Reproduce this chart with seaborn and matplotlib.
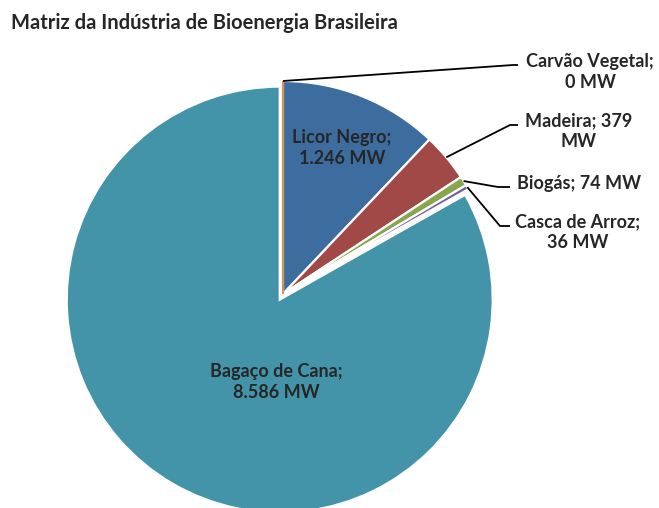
import matplotlib
matplotlib.use("Agg")

import matplotlib.pyplot as plt
import numpy as np
import seaborn as sns

# Brazilian bioenergy installed capacity (MW), clockwise from the top
SOURCES = ["Carvão Vegetal", "Licor Negro", "Madeira", "Biogás", "Casca de Arroz", "Bagaço de Cana"]
CAPACITY_MW = [0, 1246, 379, 74, 36, 8586]
LABELS = ["Carvão Vegetal;\n0 MW", "Licor Negro;\n1.246 MW", "Madeira; 379\nMW",
          "Biogás; 74 MW", "Casca de Arroz;\n36 MW", "Bagaço de Cana;\n8.586 MW"]
COLORS = ["#E1823B", "#3D6C9E", "#A14946", "#88A64E", "#735FA0", "#4394A8"]

W, H = 659, 508
sns.set_theme(style="white")
plt.rcParams["font.family"] = ["Lato", "DejaVu Sans"]
text_color = "#262626"

fig = plt.figure(figsize=(W / 100, H / 100), dpi=100)
ax = fig.add_axes([0, 0, 1, 1])

# axes are in pixel units, so explode is an offset in pixels here
cx, cy, r = 283, H - 294, 213
explode = [0, 0, 0, 0, 0, 6.5]
wedges, _ = ax.pie(
    CAPACITY_MW, colors=COLORS, startangle=90, counterclock=False,
    center=(cx, cy), radius=r, explode=explode,
    wedgeprops={"edgecolor": "white", "linewidth": 1.6},
    frame=True,
)
# the zero-width slice only shows as a thin orange line
wedges[0].set_edgecolor(COLORS[0])
wedges[0].set_linewidth(1.3)
wedges[0].set_zorder(5)

ax.set_xlim(0, W)
ax.set_ylim(0, H)
ax.set_aspect("equal", adjustable="datalim")
ax.axis("off")

label_kw = dict(ha="center", va="center", fontsize=13, fontweight="bold",
                color=text_color, linespacing=1.22)

# labels inside the two big slices (pixel positions from the reference)
inside = {1: (342, 148), 5: (276, 382)}
for i, (x, y) in inside.items():
    ax.text(x, H - y, LABELS[i], **label_kw)

# outside labels with elbow leader lines
outside = {
    0: {"elbow": (513, 65), "end": (518, 65), "text": (590, 72)},
    2: {"elbow": (510, 125), "end": (518, 125), "text": (579, 131)},
    3: {"elbow": (498, 187), "end": (510, 187), "text": (579, 183)},
    4: {"elbow": (500, 226), "end": (510, 226), "text": (578, 232)},
}
for i, pos in outside.items():
    w = wedges[i]
    mid = np.deg2rad((w.theta1 + w.theta2) / 2)
    ax0 = w.center[0] + w.r * np.cos(mid)
    ay0 = w.center[1] + w.r * np.sin(mid)
    xs = [ax0, pos["elbow"][0], pos["end"][0]]
    ys = [ay0, H - pos["elbow"][1], H - pos["end"][1]]
    ax.plot(xs, ys, color="black", linewidth=1.3, zorder=6, solid_capstyle="butt")
    tx, ty = pos["text"]
    ax.text(tx, H - ty, LABELS[i], **label_kw)

fig.text(11 / W, 1 - 23 / H, "Matriz da Indústria de Bioenergia Brasileira",
         ha="left", va="center", fontsize=14.5, fontweight="bold", color=text_color)

fig.savefig("out.png", dpi=100)
plt.close(fig)
